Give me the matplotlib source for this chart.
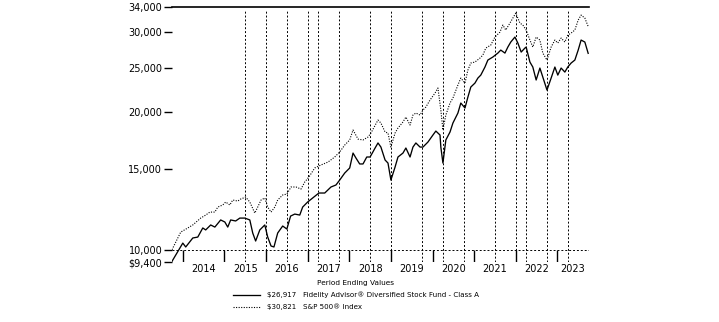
import numpy as np
import matplotlib
matplotlib.use('Agg')
import matplotlib.pyplot as plt

# %% Data (values in thousands of dollars, x in decimal years)
fund_x = [2013.74, 2014.00, 2014.07, 2014.24, 2014.36, 2014.48, 2014.55, 2014.67, 2014.77, 2014.91,
          2015.01, 2015.08, 2015.15, 2015.27, 2015.37, 2015.49, 2015.61, 2015.68, 2015.75, 2015.85,
          2015.97, 2016.04, 2016.12, 2016.19, 2016.28, 2016.40, 2016.50, 2016.59, 2016.69, 2016.81,
          2016.88, 2017.00, 2017.12, 2017.27, 2017.41, 2017.56, 2017.68, 2017.77, 2017.89, 2018.01,
          2018.09, 2018.16, 2018.25, 2018.33, 2018.42, 2018.50, 2018.62, 2018.69, 2018.76, 2018.86,
          2018.93, 2019.00, 2019.10, 2019.17, 2019.29, 2019.36, 2019.46, 2019.53, 2019.60, 2019.70,
          2019.77, 2019.89, 2020.01, 2020.08, 2020.18, 2020.20, 2020.25, 2020.32, 2020.42, 2020.49,
          2020.61, 2020.68, 2020.78, 2020.85, 2020.92, 2021.02, 2021.09, 2021.16, 2021.26, 2021.33,
          2021.45, 2021.57, 2021.64, 2021.74, 2021.81, 2021.88, 2021.98, 2022.05, 2022.13, 2022.22,
          2022.25, 2022.34, 2022.41, 2022.49, 2022.58, 2022.65, 2022.75, 2022.85, 2022.94, 2023.01,
          2023.09, 2023.18, 2023.25, 2023.33, 2023.42, 2023.50, 2023.57, 2023.66, 2023.74]
fund_val = [9.43, 10.34, 10.14, 10.61, 10.66, 11.16, 11.05, 11.33, 11.21, 11.62,
            11.50, 11.21, 11.62, 11.56, 11.73, 11.73, 11.62, 10.88, 10.45, 11.05,
            11.33, 10.66, 10.19, 10.14, 10.88, 11.27, 11.10, 11.85, 11.97, 11.91,
            12.40, 12.72, 12.98, 13.31, 13.31, 13.72, 13.86, 14.21, 14.72, 15.10,
            16.28, 15.88, 15.41, 15.41, 15.96, 15.96, 16.70, 17.13, 16.78, 15.72,
            15.48, 14.21, 15.17, 15.96, 16.28, 16.70, 15.96, 16.78, 17.13, 16.78,
            16.78, 17.21, 17.83, 18.19, 17.83, 16.78, 15.48, 17.39, 18.10, 18.94,
            19.92, 20.95, 20.43, 21.59, 22.71, 23.17, 23.76, 24.12, 25.12, 26.02,
            26.42, 26.95, 27.36, 26.95, 27.78, 28.49, 29.22, 28.35, 27.09, 27.64,
            27.78, 25.76, 25.12, 23.53, 24.99, 23.88, 22.37, 23.76, 25.12, 24.12,
            24.99, 24.49, 25.12, 25.63, 26.02, 27.36, 28.78, 28.49, 26.917]

index_x = [2013.74, 2013.95, 2014.12, 2014.24, 2014.43, 2014.55, 2014.65, 2014.77, 2014.84, 2014.96,
           2015.03, 2015.13, 2015.20, 2015.32, 2015.39, 2015.51, 2015.61, 2015.73, 2015.80, 2015.88,
           2015.97, 2016.04, 2016.12, 2016.21, 2016.28, 2016.40, 2016.50, 2016.60, 2016.72, 2016.84,
           2016.93, 2017.03, 2017.17, 2017.32, 2017.49, 2017.65, 2017.77, 2017.89, 2018.01, 2018.09,
           2018.21, 2018.33, 2018.45, 2018.52, 2018.69, 2018.76, 2018.86, 2018.93, 2019.00, 2019.10,
           2019.17, 2019.29, 2019.36, 2019.46, 2019.53, 2019.60, 2019.70, 2019.77, 2019.84, 2019.94,
           2020.06, 2020.13, 2020.20, 2020.25, 2020.32, 2020.42, 2020.49, 2020.61, 2020.68, 2020.78,
           2020.85, 2020.92, 2021.02, 2021.14, 2021.21, 2021.28, 2021.40, 2021.50, 2021.62, 2021.69,
           2021.76, 2021.86, 2021.93, 2022.00, 2022.10, 2022.17, 2022.25, 2022.34, 2022.41, 2022.49,
           2022.58, 2022.65, 2022.75, 2022.85, 2022.94, 2023.01, 2023.09, 2023.18, 2023.25, 2023.33,
           2023.42, 2023.50, 2023.57, 2023.66, 2023.74]
index_val = [10.00, 10.93, 11.16, 11.33, 11.73, 11.91, 12.09, 12.09, 12.40, 12.53,
             12.72, 12.53, 12.85, 12.78, 12.91, 13.04, 12.72, 12.03, 12.40, 12.85,
             12.98, 12.40, 12.09, 12.40, 12.85, 13.18, 13.24, 13.72, 13.72, 13.58,
             14.07, 14.43, 15.10, 15.33, 15.56, 15.96, 16.37, 16.95, 17.39, 18.29,
             17.47, 17.39, 17.65, 18.01, 19.23, 18.94, 18.10, 18.01, 16.78, 18.01,
             18.47, 19.04, 19.52, 18.75, 19.72, 19.92, 19.72, 20.22, 20.53, 21.27,
             22.03, 22.60, 20.22, 18.29, 19.72, 20.95, 21.48, 22.94, 23.76, 23.17,
             24.74, 25.63, 25.76, 26.28, 26.68, 27.64, 28.06, 29.22, 29.96, 31.04,
             30.27, 31.35, 32.15, 32.97, 31.35, 31.04, 30.27, 28.78, 27.78, 29.22,
             28.78, 26.95, 26.02, 27.78, 28.78, 28.35, 29.07, 28.49, 29.51, 29.81,
             30.27, 31.83, 32.64, 32.15, 30.821]

marker_years = [2015.5, 2016.0, 2016.5, 2017.0, 2017.25, 2017.75, 2018.5, 2019.0,
                2019.75, 2020.25, 2020.75, 2021.5, 2022.0, 2022.25, 2022.75, 2023.25]
years = list(range(2014, 2024))
y_ticks = [9400, 10000, 15000, 20000, 25000, 30000, 34000]
y_labels = ['\\$9,400', '10,000', '15,000', '20,000', '25,000', '30,000', '34,000']

fund_label = '\\$26,917   Fidelity Advisor\u00ae Diversified Stock Fund - Class A'
index_label = '\\$30,821   S&P 500\u00ae Index'

# %% Plot
fig = plt.figure(figsize=(7.19, 3.22), dpi=100)
ax = fig.add_axes([0.2392, 0.1863, 0.5800, 0.7920])

x0, x1 = 2013.74, 2023.76
ax.set_yscale('log')
ax.set_xlim(x0, x1)
ax.set_ylim(9400, 34000)

# vertical dotted markers and the 10,000 reference line
ax.vlines(marker_years, 9400, 33500, colors='black', linewidth=0.7, linestyles=(0, (2, 2)))
ax.hlines(10000, x0, x1, colors='black', linewidth=0.7, linestyles=(0, (2, 2)))
# year boundary ticks
ax.vlines(years, 9400, 10000, colors='black', linewidth=1.0)

line_f, = ax.plot(fund_x, np.array(fund_val) * 1000, color='black', linewidth=0.95,
                  label=fund_label)
line_i, = ax.plot(index_x, np.array(index_val) * 1000, color='black', linewidth=0.8,
                  linestyle=(0, (1, 1.3)), label=index_label)

ax.minorticks_off()
ax.set_yticks(y_ticks)
ax.set_yticklabels(y_labels)
ax.yaxis.set_minor_locator(matplotlib.ticker.NullLocator())
label_pos = [y + 0.5 for y in years[:-1]] + [2023.37]
ax.set_xticks(label_pos)
ax.set_xticklabels([str(y) for y in years])
ax.tick_params(axis='x', length=0, labelsize=7, pad=1.5)
ax.tick_params(axis='y', length=6, width=1, direction='out', labelsize=7, pad=1)

for side in ['left', 'right', 'bottom']:
    ax.spines[side].set_visible(False)
ax.spines['top'].set_linewidth(1.2)

leg = fig.legend(handles=[line_f, line_i], loc='upper center',
                 bbox_to_anchor=(0.495, 0.145), frameon=False, fontsize=5.1,
                 title='Period Ending Values', title_fontsize=5.3,
                 handlelength=3.8, handletextpad=1.0, labelspacing=0.75, borderpad=0.2)

fig.savefig('out.png', dpi=100)
